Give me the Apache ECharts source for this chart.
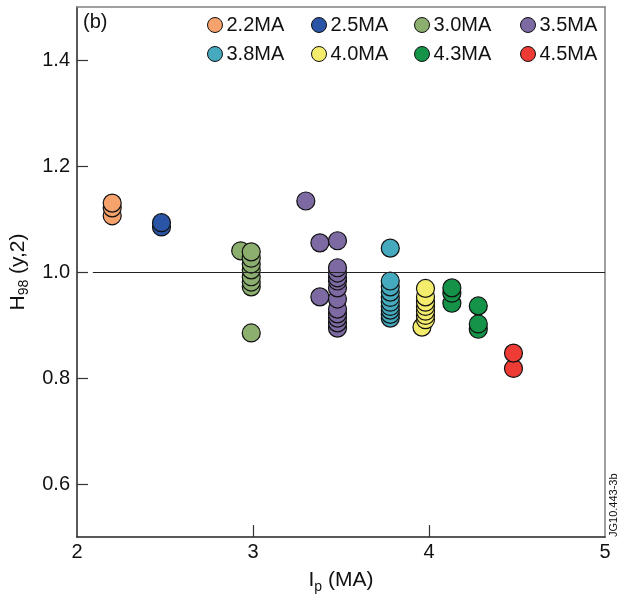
<!DOCTYPE html>
<html>
<head>
<meta charset="utf-8">
<script src="https://cdn.jsdelivr.net/npm/echarts@6/dist/echarts.min.js"></script>
<style>
  html, body { margin: 0; padding: 0; background: #fff; }
  #chart { width: 627px; height: 594px; }
</style>
</head>
<body>
<div id="chart"></div>
<script>
// Plasma current classes (legend) and their colours
const classNames = ['2.2MA', '2.5MA', '3.0MA', '3.5MA', '3.8MA', '4.0MA', '4.3MA', '4.5MA'];
const classColors = ['#F5A26C', '#2A55A6', '#8CAE6E', '#7D6AA3', '#46AABF', '#F3EC6C', '#159449', '#EE3B35'];

// Ip (MA) and H98(y,2) per class, listed bottom-up so upper circles sit on top
const ip_22 = [2.20, 2.20, 2.20];
const h98_22 = [1.106, 1.121, 1.130];

const ip_25 = [2.48, 2.48];
const h98_25 = [1.085, 1.093];

const ip_30 = [2.93, 2.99, 2.99, 2.99, 2.99, 2.99, 2.99, 2.99, 2.99];
const h98_30 = [1.040, 0.885, 0.972, 0.981, 0.991, 1.004, 1.015, 1.026, 1.038];

const ip_35 = [3.30, 3.38, 3.38, 3.48, 3.48, 3.48, 3.48, 3.48, 3.48, 3.48, 3.48, 3.48, 3.48, 3.48, 3.48];
const h98_35 = [1.134, 1.055, 0.953, 0.894, 0.904, 0.913, 0.921, 0.930, 0.949, 0.970, 0.983, 0.989, 0.998, 1.008, 1.059];

const ip_38 = [3.78, 3.78, 3.78, 3.78, 3.78, 3.78, 3.78, 3.78, 3.78, 3.78];
const h98_38 = [0.913, 0.920, 0.928, 0.935, 0.943, 0.952, 0.962, 0.972, 0.983, 1.045];

const ip_40 = [3.96, 3.98, 3.98, 3.98, 3.98, 3.98, 3.98, 3.98];
const h98_40 = [0.896, 0.910, 0.918, 0.926, 0.935, 0.943, 0.953, 0.969];

const ip_43 = [4.13, 4.13, 4.13, 4.28, 4.28, 4.28];
const h98_43 = [0.941, 0.960, 0.970, 0.892, 0.902, 0.936];

const ip_45 = [4.48, 4.48];
const h98_45 = [0.818, 0.847];

const ipByClass = [ip_22, ip_25, ip_30, ip_35, ip_38, ip_40, ip_43, ip_45];
const h98ByClass = [h98_22, h98_25, h98_30, h98_35, h98_38, h98_40, h98_43, h98_45];

// Axis ticks
const xTickLabels = [2, 3, 4, 5];
const xInnerTicks = [3, 4];
const yTickLabels = [0.6, 0.8, 1.0, 1.2, 1.4];
const referenceLevel = 1.0;

const FONT = '"Liberation Sans", Arial, Helvetica, sans-serif';

const chart = echarts.init(document.getElementById('chart'), null, { renderer: 'canvas' });

const scatterSeries = classNames.map((name, i) => ({
  name: name,
  type: 'scatter',
  z: 3,
  symbol: 'circle',
  symbolSize: 18,
  itemStyle: { color: classColors[i], borderColor: '#111', borderWidth: 1.2, opacity: 1 },
  emphasis: { disabled: true },
  data: ipByClass[i].map((x, k) => [x, h98ByClass[i][k]])
}));

// Reference line at H98 = 1
const refSeries = {
  name: 'ref',
  type: 'scatter',
  z: 1,
  data: [],
  silent: true,
  markLine: {
    silent: true,
    symbol: 'none',
    label: { show: false },
    lineStyle: { color: '#222', width: 1, type: 'solid' },
    data: [[{ coord: [2.09, referenceLevel] }, { coord: [5, referenceLevel] }]]
  }
};

// One legend block per class, laid out in two rows of four
const legendLeft = [207, 311, 414, 520];
const legendTop = [15, 44];
const legends = classNames.map((name, i) => ({
  data: [name],
  left: legendLeft[i % 4],
  top: legendTop[Math.floor(i / 4)],
  icon: 'circle',
  itemWidth: 15,
  itemHeight: 15,
  itemGap: 4,
  padding: 0,
  selectedMode: false,
  textStyle: { fontFamily: FONT, fontSize: 20, color: '#111', padding: [0, 0, 0, -1] },
  itemStyle: { borderColor: '#111', borderWidth: 1 }
}));

const option = {
  animation: false,
  backgroundColor: '#fff',
  textStyle: { fontFamily: FONT },
  grid: { left: 77, top: 7, width: 528, height: 530, outerBoundsMode: 'none', containLabel: false },
  legend: legends,
  title: {
    text: '(b)',
    left: 83,
    top: 12,
    padding: 0,
    textStyle: { fontFamily: FONT, fontSize: 20, fontWeight: 'normal', color: '#111' }
  },
  graphic: [{
    type: 'text',
    x: 608,
    y: 537,
    rotation: Math.PI / 2,
    style: {
      text: 'JG10.443-3b',
      font: '11px ' + FONT,
      fill: '#111',
      textAlign: 'left',
      textVerticalAlign: 'top'
    }
  }],
  xAxis: [{
    type: 'value',
    min: 2,
    max: 5,
    interval: 1,
    axisLine: { show: true, onZero: false, lineStyle: { color: '#222', width: 1.5 } },
    axisTick: { show: true, inside: true, length: 12, customValues: xInnerTicks, lineStyle: { color: '#333', width: 1.2 } },
    axisLabel: {
      customValues: xTickLabels,
      margin: 5,
      fontFamily: FONT, fontSize: 20, color: '#111'
    },
    splitLine: { show: false },
    name: '{a|I}{s|p}{a| (MA)}',
    nameLocation: 'middle',
    nameGap: 31,
    nameTextStyle: {
      rich: {
        a: { fontFamily: FONT, fontSize: 21, color: '#111', lineHeight: 24 },
        s: { fontFamily: FONT, fontSize: 14, color: '#111', lineHeight: 24, padding: [13, 0, 0, 0] }
      }
    }
  }, {
    type: 'value',
    position: 'top',
    min: 2,
    max: 5,
    axisLine: { show: true, onZero: false, lineStyle: { color: '#808080', width: 1.5 } },
    axisTick: { show: false },
    axisLabel: { show: false },
    splitLine: { show: false }
  }],
  yAxis: [{
    type: 'value',
    min: 0.5,
    max: 1.5,
    axisLine: { show: true, onZero: false, lineStyle: { color: '#222', width: 1.5 } },
    axisTick: { show: true, inside: true, length: 11, customValues: yTickLabels, lineStyle: { color: '#333', width: 1.2 } },
    axisLabel: {
      customValues: yTickLabels,
      margin: 7,
      formatter: v => v.toFixed(1),
      fontFamily: FONT, fontSize: 20, color: '#111'
    },
    splitLine: { show: false },
    name: '{a|H}{s|98}{a| (y,2)}',
    nameLocation: 'middle',
    nameRotate: 90,
    nameGap: 45,
    nameTextStyle: {
      rich: {
        a: { fontFamily: FONT, fontSize: 21, color: '#111', lineHeight: 24 },
        s: { fontFamily: FONT, fontSize: 14, color: '#111', lineHeight: 24, padding: [13, 0, 0, 0] }
      }
    }
  }, {
    type: 'value',
    position: 'right',
    min: 0.5,
    max: 1.5,
    axisLine: { show: true, onZero: false, lineStyle: { color: '#808080', width: 1.5 } },
    axisTick: { show: false },
    axisLabel: { show: false },
    splitLine: { show: false }
  }],
  series: [refSeries].concat(scatterSeries)
};

chart.setOption(option);
</script>
</body>
</html>
